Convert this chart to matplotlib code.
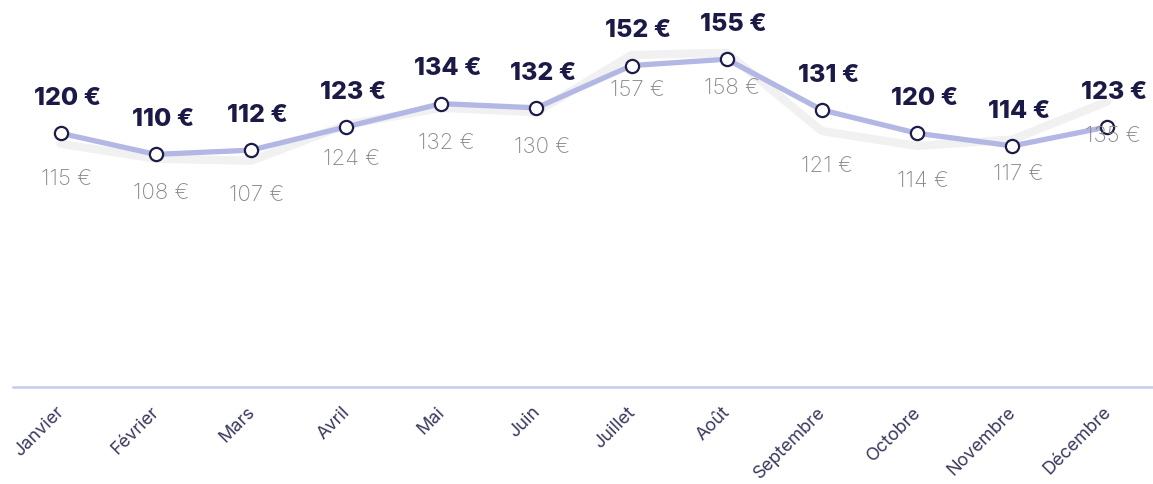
import numpy as np
import matplotlib.pyplot as plt
import matplotlib.transforms as mtransforms

months = ['Janvier', 'Février', 'Mars', 'Avril', 'Mai', 'Juin', 'Juillet',
          'Août', 'Septembre', 'Octobre', 'Novembre', 'Décembre']
prix = [120, 110, 112, 123, 134, 132, 152, 155, 131, 120, 114, 123]
prix_prec = [115, 108, 107, 124, 132, 130, 157, 158, 121, 114, 117, 135]

plt.rcParams['font.family'] = ['Inter', 'DejaVu Sans']

fig = plt.figure(figsize=(11.53, 4.84), dpi=100)
ax = fig.add_axes([13 / 1153, 1 - 387 / 484, 1142 / 1153, 387 / 484])

x = np.arange(len(months))

ax.plot(x, prix_prec, color='#f1f1f1', lw=6, solid_capstyle='round', zorder=1)
ax.plot(x, prix, color='#b3b7e3', lw=3.8, zorder=2)
ax.plot(x, prix, 'o', ms=9.5, mfc='white', mec='#1d1b48', mew=1.6, zorder=3)

for i in range(len(months)):
    ax.annotate(f'{prix[i]} €', (x[i], prix[i]), xytext=(5, 25),
                textcoords='offset points', ha='center', va='center',
                fontsize=18, fontweight='heavy', color='#1b1a47', zorder=4)
    ax.annotate(f'{prix_prec[i]} €', (x[i], prix_prec[i]), xytext=(4, -25),
                textcoords='offset points', ha='center', va='center',
                fontsize=16, fontweight='light', color='#8c8787', zorder=4)

ax.set_xlim(-0.5, 11.5)
ax.set_ylim(0, 183)
ax.set_yticks([])
ax.set_xticks(x)
ax.set_xticklabels(months, rotation=45, ha='right', va='top',
                   rotation_mode='anchor', fontsize=13, color='#3b3a5e')
ax.tick_params(axis='x', length=0, pad=12)
shift = mtransforms.ScaledTranslation(-5 / 100, 0, fig.dpi_scale_trans)
for lbl in ax.get_xticklabels():
    lbl.set_transform(lbl.get_transform() + shift)
for s in ['top', 'right', 'left']:
    ax.spines[s].set_visible(False)
ax.spines['bottom'].set_color('#c9c9ef')
ax.spines['bottom'].set_linewidth(1.8)

fig.savefig('out.png', dpi=100)
